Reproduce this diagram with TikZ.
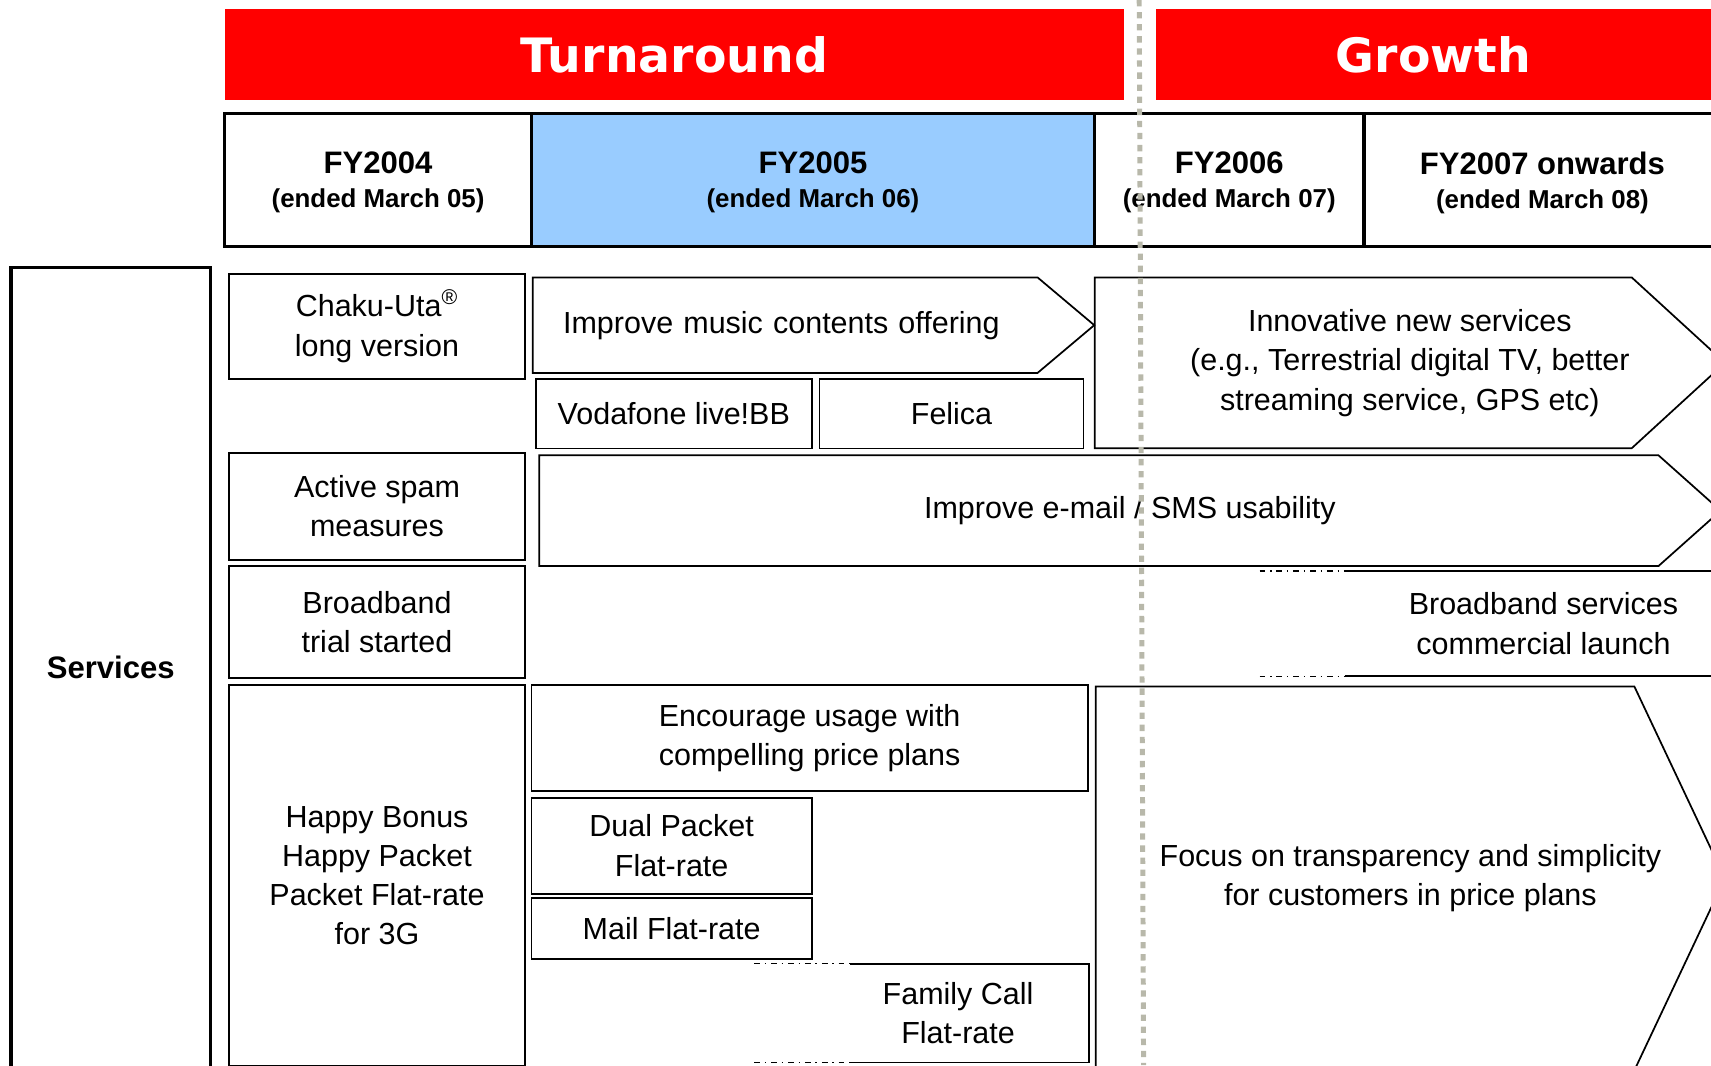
\documentclass[tikz,border=0pt]{standalone}
\usepackage{fontspec}
\setmainfont{Liberation Sans}
\newfontfamily\bannerfont{DejaVu Sans}

\definecolor{bannerred}{RGB}{255,0,0}
\definecolor{yearblue}{RGB}{153,204,255}
\definecolor{divider}{RGB}{184,184,170}

\begin{document}
\begin{tikzpicture}[x=0.02cm,y=-0.02cm,
    cell size/.style 2 args={minimum width=#1*0.02cm,minimum height=#2*0.02cm},
    banner/.style={fill=bannerred,inner sep=0pt,text=white,font=\bannerfont\bfseries\fontsize{24.7}{30}\selectfont},
    yearcell/.style={draw,line width=1.7pt,inner sep=0pt,align=center,text depth=0pt,font=\bfseries\fontsize{13.5}{17.8}\selectfont},
    cellbox/.style={draw,line width=0.9pt,inner sep=0pt,align=center,font=\fontsize{15.9}{20.5}\selectfont},
    textonly/.style={cellbox,draw=none},
    open end/.style={line width=0.6pt,dash pattern=on 3pt off 2.5pt on 0.8pt off 2.5pt}]

  \useasboundingbox (0,0) rectangle (1568,976);
  \clip (0,0) rectangle (1568,976);

  % phase banners
  \node[banner, cell size={824}{84}] (turn) at (618,50) {Turnaround};
  \node[banner, cell size={509}{84}] (grow) at (1313.5,50) {Growth};

  % fiscal years
  \node[yearcell, cell size={281}{122}] (fy04) at (346.5,165) {{\fontsize{16.2}{17.8}\selectfont FY2004}\\(ended March 05)};
  \node[yearcell, fill=yearblue, cell size={516}{122}] (fy05) at (745,165) {{\fontsize{16.2}{17.8}\selectfont FY2005}\\(ended March 06)};
  \node[yearcell, cell size={247}{122}] (fy06) at (1126.5,165) {{\fontsize{16.2}{17.8}\selectfont FY2006}\\(ended March 07)};
  \node[yearcell, cell size={327}{122}] (fy07) at (1413.5,165) {{\fontsize{16.2}{17.8}\selectfont FY2007 onwards}\\(ended March 08)};

  % services column
  \node[yearcell, font=\bfseries\fontsize{16.2}{20}\selectfont, cell size={183}{733}] (serv) at (101.5,611.5) {Services};

  % FY2004
  \node[cellbox, cell size={271}{96}] (chaku) at (345.5,299) {Chaku-Uta\textsuperscript{®}\\long version};
  \node[cellbox, cell size={271}{98}] (spam) at (345.5,464) {Active spam\\measures};
  \node[cellbox, cell size={271}{102}] (trial) at (345.5,570) {Broadband\\trial started};
  \node[cellbox, cell size={271}{349}] (happy) at (345.5,802.5) {Happy Bonus\\Happy Packet\\Packet Flat-rate\\for 3G};

  % FY2005
  \node[textonly, cell size={513}{86}, text width=9.18cm, align=left] (music) at (745.5,298) {Improve music contents offering};
  \node[cellbox, cell size={253}{64}] (live) at (617.5,379) {Vodafone live!BB};
  \node[cellbox, cell size={242}{64}] (felica) at (872,379) {Felica};
  \node[textonly, cell size={1081}{100}] (mail) at (1035.5,468) {Improve e-mail / SMS usability};
  \node[cellbox, cell size={510}{97}] (plans) at (742,676.5) {Encourage usage with\\compelling price plans};
  \node[cellbox, cell size={257}{88}] (dual) at (615.5,775) {Dual Packet\\Flat-rate};
  \node[cellbox, cell size={257}{56}] (mailflat) at (615.5,851) {Mail Flat-rate};
  \node[textonly, cell size={238}{89}] (family) at (878,928.5) {Family Call\\Flat-rate};

  % FY2006 onwards
  \node[textonly, cell size={576}{155}] (innov) at (1292,332.5) {Innovative new services\\(e.g., Terrestrial digital TV, better\\streaming service, GPS etc)};
  \node[textonly, cell size={363}{95}] (launch) at (1414.5,571.5) {Broadband services\\commercial launch};
  \node[textonly, cell size={575}{350}] (focus) at (1292.5,805) {Focus on transparency and simplicity\\for customers in price plans};

  % chevrons, tip length in cm
  \foreach \n/\t in {music/1.04,mail/1.14,innov/1.71,focus/1.66}
    \draw[line width=0.9pt] (\n.north west) -- ([xshift=-\t cm]\n.north east) -- (\n.east)
      -- ([xshift=-\t cm]\n.south east) -- (\n.south west) -- cycle;

  % boxes left open towards earlier years
  \draw[line width=0.9pt] (launch.north west) -- (launch.north east)
    (launch.south west) -- (launch.south east);
  \draw[open end] ([xshift=-1.56cm]launch.north west) -- (launch.north west)
    ([xshift=-1.56cm]launch.south west) -- (launch.south west);
  \draw[line width=0.9pt] ([xshift=0.42cm]family.north west) -- (family.north east)
    -- (family.south east) -- ([xshift=0.42cm]family.south west);
  \draw[open end] ([xshift=-1.34cm]family.north west) -- ([xshift=0.42cm]family.north west)
    ([xshift=-1.34cm]family.south west) -- ([xshift=0.42cm]family.south west);

  % turnaround / growth divider
  \coordinate (cut top) at (1044,0);
  \coordinate (cut bottom) at (1048,976);
  \draw[divider, line width=2.6pt, dash pattern=on 3.3pt off 3pt] (cut top) -- (cut bottom);
\end{tikzpicture}
\end{document}
